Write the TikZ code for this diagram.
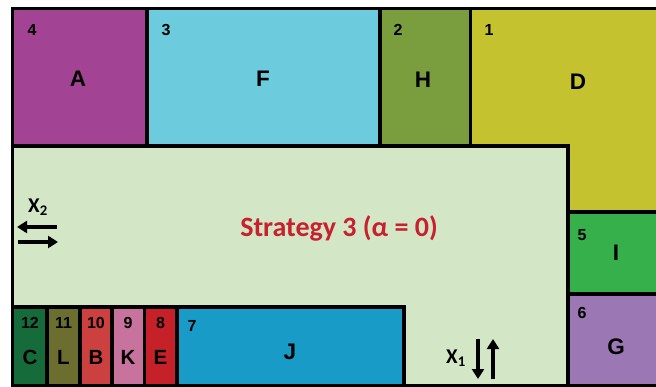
\documentclass[tikz,border=0pt]{standalone}
\usepackage{fontspec}
\setmainfont{Carlito}
\newfontfamily\cellfont{Liberation Sans}
\usetikzlibrary{arrows.meta}
\definecolor{colA}{HTML}{A34393}
\definecolor{colF}{HTML}{6CCCDE}
\definecolor{colH}{HTML}{7A9E3E}
\definecolor{colD}{HTML}{C4C22F}
\definecolor{colMain}{HTML}{D3E7C6}
\definecolor{colI}{HTML}{35B04A}
\definecolor{colG}{HTML}{9B77B4}
\definecolor{colC}{HTML}{166B3A}
\definecolor{colL}{HTML}{6B6E2F}
\definecolor{colB}{HTML}{CC4040}
\definecolor{colK}{HTML}{C7739E}
\definecolor{colE}{HTML}{C62028}
\definecolor{colJ}{HTML}{189BC6}
\definecolor{colTitle}{HTML}{C8202E}
\tikzset{
  cell/.style={draw=black,line width=3.5pt},
  tag/.style={font=\cellfont\bfseries\fontsize{16}{16}\selectfont,inner sep=0pt},
  letter/.style={font=\cellfont\bfseries\fontsize{22.5}{22.5}\selectfont,inner sep=0pt},
  small letter/.style={font=\cellfont\bfseries\fontsize{20.5}{20.5}\selectfont,inner sep=0pt},
  axis label/.style={font=\bfseries\fontsize{21}{21}\selectfont,inner sep=0pt},
  move/.style={line width=3.5pt,-{Triangle[length=10pt,width=12pt]}}
}

\begin{document}
\begin{tikzpicture}[x=1pt,y=-1pt]
  \useasboundingbox (0,0) rectangle (656,387);
  % top row
  \filldraw[cell,fill=colA] (12.5,8.5) rectangle (147,146);
  \filldraw[cell,fill=colF] (147,8.5) rectangle (380,146);
  \filldraw[cell,fill=colH] (380,8.5) rectangle (470.5,146);
  \filldraw[cell,fill=colD] (470.5,8.5) rectangle (662,212);
  % main area
  \filldraw[cell,fill=colMain] (12.5,146) rectangle (568,385.5);
  % right column
  \filldraw[cell,fill=colI] (568,212) rectangle (662,294);
  \filldraw[cell,fill=colG] (568,294) rectangle (662,385.5);
  % bottom strip
  \filldraw[cell,fill=colC] (12.5,307) rectangle (47,385.5);
  \filldraw[cell,fill=colL] (47,307) rectangle (80,385.5);
  \filldraw[cell,fill=colB] (80,307) rectangle (112,385.5);
  \filldraw[cell,fill=colK] (112,307) rectangle (144.5,385.5);
  \filldraw[cell,fill=colE] (144.5,307) rectangle (177,385.5);
  \filldraw[cell,fill=colJ] (177,307) rectangle (404,385.5);

  \node[tag] (n4) at (32,30) {4};
  \node[letter] (A) at (78,79) {A};
  \node[tag] (n3) at (166,30) {3};
  \node[letter] (F) at (263,79) {F};
  \node[tag] (n2) at (398,30) {2};
  \node[letter] (H) at (423,80) {H};
  \node[tag] (n1) at (489,30) {1};
  \node[letter] (D) at (578,82) {D};
  \node[tag] (n5) at (582,235) {5};
  \node[letter] (I) at (616,253) {I};
  \node[tag] (n6) at (582,313) {6};
  \node[letter] (G) at (616,347) {G};

  \node[tag] (n12) at (30,323) {12};
  \node[small letter] (C) at (30,357) {C};
  \node[tag] (n11) at (63.5,323) {11};
  \node[small letter] (L) at (63.5,357) {L};
  \node[tag] (n10) at (96,323) {10};
  \node[small letter] (B) at (96,357) {B};
  \node[tag] (n9) at (128,323) {9};
  \node[small letter] (K) at (128,357) {K};
  \node[tag] (n8) at (160.5,323) {8};
  \node[small letter] (E) at (160.5,357) {E};
  \node[tag] (n7) at (192,326) {7};
  \node[letter] (J) at (290,352) {J};

  \node[font=\bfseries\fontsize{28}{28}\selectfont,text=colTitle,inner sep=0pt] (title) at (339,228) {Strategy 3 (α = 0)};

  % directions
  \node[axis label] (x2) at (38,207) {X\textsubscript{2}};
  \coordinate (w1) at (57,227);
  \coordinate (w2) at (17,227);
  \coordinate (e1) at (18,242);
  \coordinate (e2) at (58,242);
  \draw[move] (w1) -- (w2);
  \draw[move] (e1) -- (e2);
  \node[axis label] (x1) at (456,358) {X\textsubscript{1}};
  \coordinate (s1) at (478,339);
  \coordinate (s2) at (478,379);
  \coordinate (u1) at (493,379);
  \coordinate (u2) at (493,339);
  \draw[move] (s1) -- (s2);
  \draw[move] (u1) -- (u2);
\end{tikzpicture}
\end{document}
